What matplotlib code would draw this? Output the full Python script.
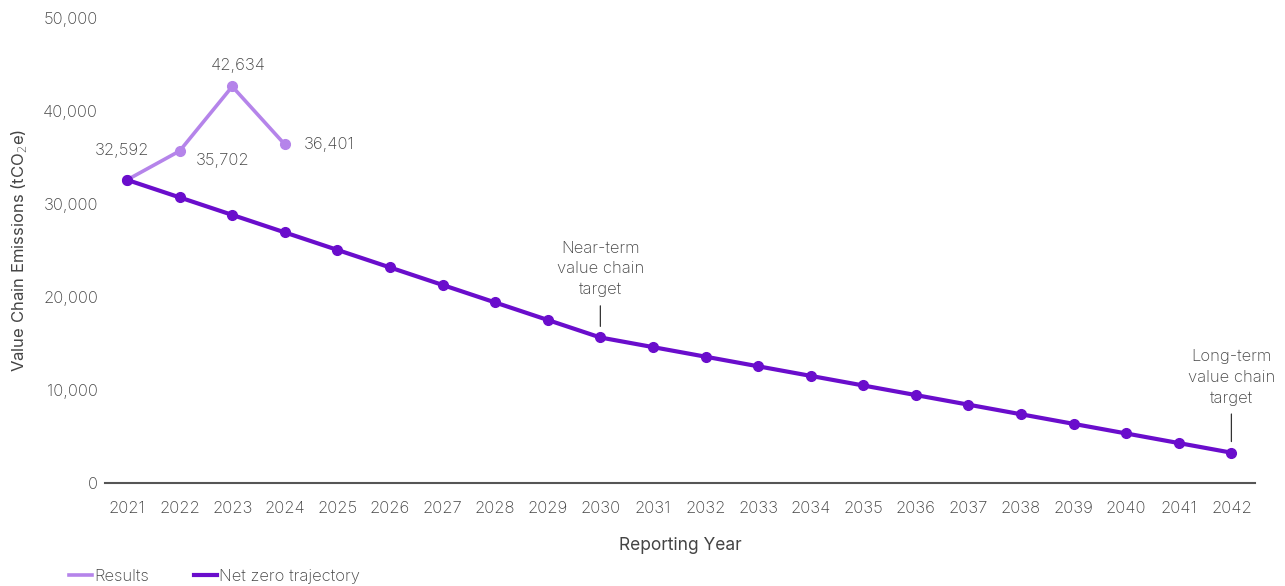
import matplotlib
matplotlib.use("Agg")
import matplotlib.pyplot as plt

years = list(range(2021, 2043))
results_years = [2021, 2022, 2023, 2024]
results = [32592, 35702, 42634, 36401]
net_zero = [32592, 30709, 28826, 26943, 25060, 23176, 21293, 19410, 17527, 15644,
            14612, 13580, 12548, 11516, 10484, 9452, 8420, 7388, 6356, 5324, 4292, 3259]
yticks = [0, 10000, 20000, 30000, 40000, 50000]

C_RES = "#B584EA"
C_NZ = "#6A0DCC"
TXT = "#444444"

plt.rcParams["font.family"] = ["Inter", "DejaVu Sans"]
plt.rcParams["font.size"] = 12
plt.rcParams["font.weight"] = "light"

fig = plt.figure(figsize=(12.85, 5.86), dpi=100)
ax = fig.add_axes([0.0817, 0.1758, 0.895, 0.7935])

ax.plot(results_years, results, color=C_RES, lw=2.6, marker="o", ms=7,
        label="Results", clip_on=False, zorder=2)
ax.plot(years, net_zero, color=C_NZ, lw=3, marker="o", ms=7,
        label="Net zero trajectory", clip_on=False, zorder=3)

# value labels on results
offs = [(-5, 29, "center"), (16, -10, "left"), (6, 21, "center"), (19, 0, "left")]
for x, y, (dx, dy, ha) in zip(results_years, results, offs):
    ax.annotate(f"{y:,}", (x, y), xytext=(dx, dy), textcoords="offset pixels",
                ha=ha, va="center", color=TXT, fontsize=12)

# target annotations
for yr, txt, dy in [(2030, "Near-term\nvalue chain\ntarget", 40),
                    (2042, "Long-term\nvalue chain\ntarget", 47)]:
    v = net_zero[years.index(yr)]
    ax.annotate(txt, (yr, v), xytext=(0, dy), textcoords="offset pixels",
                ha="center", va="bottom", color=TXT, fontsize=12, linespacing=1.5,
                arrowprops=dict(arrowstyle="-", color="#333333", lw=0.9,
                                shrinkA=4, shrinkB=8))

ax.set_xlim(2020.58, 2042.45)
ax.set_ylim(0, 50000)
ax.set_xticks(years)
ax.set_yticks(yticks)
ax.set_yticklabels([f"{v:,}" for v in yticks])
ax.tick_params(axis="both", length=0, colors=TXT, labelsize=12)
ax.tick_params(axis="x", pad=13)
ax.tick_params(axis="y", pad=5)
for s in ["top", "right", "left"]:
    ax.spines[s].set_visible(False)
ax.spines["bottom"].set_color("#555555")
ax.spines["bottom"].set_linewidth(1.5)

ax.set_xlabel("Reporting Year", color=TXT, fontsize=12.5, labelpad=15)
ax.set_ylabel("Value Chain Emissions (tCO$_2$e)", color=TXT, fontsize=12, labelpad=6)
ax.yaxis.set_label_coords(-0.066, 0.5)

fig.legend(loc="lower left", bbox_to_anchor=(0.042, -0.022), ncol=2, frameon=False,
           handlelength=1.4, handletextpad=0.1, columnspacing=2.7, fontsize=12,
           labelcolor=TXT)
leg = fig.legends[0]
for h in leg.legend_handles:
    h.set_marker("")

fig.savefig("out.png", dpi=100)
